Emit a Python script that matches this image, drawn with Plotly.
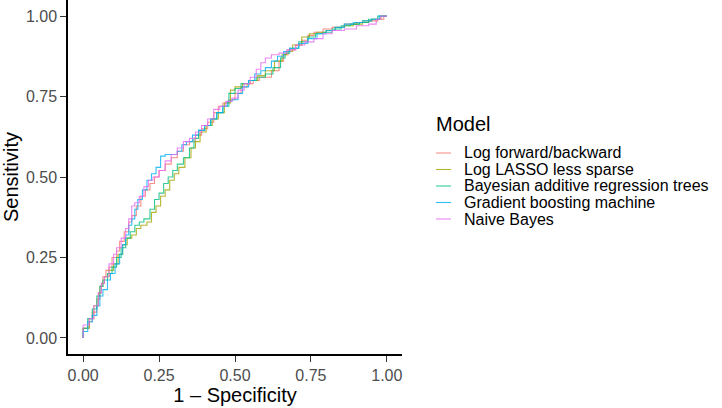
import plotly.graph_objects as go

# ROC curves (1 - specificity, sensitivity)
models = [
    "Log forward/backward",
    "Log LASSO less sparse",
    "Bayesian additive regression trees",
    "Gradient boosting machine",
    "Naive Bayes",
]
colors = ["#F8766D", "#A3A500", "#00BF7D", "#00B0F6", "#E76BF3"]

fpr_logfb = [0, 0.02, 0.03, 0.045, 0.055, 0.065, 0.075, 0.085, 0.095, 0.11, 0.12, 0.135, 0.15, 0.16,
             0.175, 0.19, 0.205, 0.22, 0.235, 0.25, 0.27, 0.29, 0.31, 0.33, 0.35, 0.37, 0.39, 0.41,
             0.43, 0.445, 0.46, 0.48, 0.50, 0.52, 0.54, 0.56, 0.58, 0.62, 0.645, 0.66, 0.675, 0.70,
             0.72, 0.74, 0.76, 0.79, 0.82, 0.86, 0.90, 0.94, 0.97, 0.99, 1.0]
tpr_logfb = [0, 0.03, 0.05, 0.08, 0.12, 0.16, 0.19, 0.21, 0.22, 0.25, 0.27, 0.30, 0.33, 0.36,
             0.38, 0.41, 0.44, 0.46, 0.48, 0.50, 0.52, 0.54, 0.56, 0.58, 0.60, 0.61, 0.63, 0.65,
             0.67, 0.70, 0.72, 0.73, 0.74, 0.76, 0.78, 0.79, 0.80, 0.81, 0.83, 0.86, 0.88, 0.895,
             0.91, 0.925, 0.94, 0.95, 0.96, 0.965, 0.975, 0.98, 0.985, 0.99, 1.0]

fpr_lasso = [0, 0.02, 0.035, 0.05, 0.06, 0.07, 0.085, 0.10, 0.115, 0.13, 0.145, 0.16, 0.175, 0.19,
             0.21, 0.225, 0.24, 0.255, 0.27, 0.285, 0.30, 0.315, 0.335, 0.355, 0.37, 0.385, 0.405,
             0.425, 0.445, 0.465, 0.485, 0.50, 0.525, 0.55, 0.575, 0.60, 0.63, 0.655, 0.67, 0.69,
             0.72, 0.745, 0.77, 0.80, 0.83, 0.86, 0.89, 0.92, 0.95, 0.98, 1.0]
tpr_lasso = [0, 0.03, 0.06, 0.10, 0.14, 0.17, 0.19, 0.21, 0.23, 0.26, 0.29, 0.31, 0.32, 0.34,
             0.35, 0.36, 0.39, 0.41, 0.44, 0.46, 0.49, 0.51, 0.53, 0.56, 0.59, 0.61, 0.64,
             0.66, 0.68, 0.70, 0.73, 0.77, 0.78, 0.79, 0.80, 0.815, 0.83, 0.86, 0.88, 0.89,
             0.91, 0.935, 0.945, 0.95, 0.955, 0.965, 0.97, 0.975, 0.985, 0.99, 1.0]

fpr_bart = [0, 0.015, 0.03, 0.045, 0.055, 0.065, 0.08, 0.095, 0.11, 0.125, 0.14, 0.155, 0.17, 0.185,
            0.20, 0.22, 0.235, 0.25, 0.265, 0.28, 0.295, 0.31, 0.33, 0.35, 0.365, 0.38, 0.40, 0.42,
            0.44, 0.46, 0.48, 0.50, 0.52, 0.545, 0.57, 0.60, 0.625, 0.65, 0.665, 0.68, 0.71, 0.74,
            0.765, 0.79, 0.82, 0.85, 0.88, 0.91, 0.94, 0.97, 1.0]
tpr_bart = [0, 0.03, 0.06, 0.09, 0.13, 0.16, 0.18, 0.20, 0.22, 0.25, 0.28, 0.31, 0.33, 0.35,
            0.36, 0.37, 0.40, 0.43, 0.45, 0.48, 0.50, 0.52, 0.54, 0.56, 0.59, 0.62, 0.645, 0.66,
            0.68, 0.70, 0.72, 0.76, 0.775, 0.79, 0.80, 0.81, 0.82, 0.84, 0.87, 0.885, 0.90, 0.92,
            0.935, 0.945, 0.95, 0.96, 0.97, 0.975, 0.98, 0.99, 1.0]

fpr_gbm = [0, 0.015, 0.03, 0.045, 0.055, 0.065, 0.08, 0.09, 0.105, 0.12, 0.13, 0.14, 0.15, 0.16,
           0.17, 0.18, 0.195, 0.21, 0.225, 0.24, 0.255, 0.27, 0.31, 0.325, 0.34, 0.36, 0.38, 0.40,
           0.42, 0.44, 0.46, 0.475, 0.49, 0.51, 0.525, 0.545, 0.565, 0.585, 0.60, 0.62, 0.64, 0.66,
           0.68, 0.71, 0.74, 0.77, 0.80, 0.83, 0.86, 0.89, 0.92, 0.95, 0.975, 1.0]
tpr_gbm = [0, 0.02, 0.05, 0.07, 0.10, 0.13, 0.15, 0.18, 0.20, 0.23, 0.26, 0.29, 0.32, 0.35,
           0.37, 0.40, 0.43, 0.46, 0.49, 0.51, 0.53, 0.565, 0.57, 0.58, 0.60, 0.61, 0.63, 0.645,
           0.66, 0.68, 0.70, 0.72, 0.735, 0.74, 0.76, 0.78, 0.80, 0.82, 0.83, 0.84, 0.86, 0.875,
           0.89, 0.90, 0.915, 0.93, 0.945, 0.955, 0.965, 0.975, 0.98, 0.985, 0.99, 1.0]

fpr_nb = [0, 0.02, 0.035, 0.05, 0.06, 0.07, 0.085, 0.10, 0.11, 0.125, 0.14, 0.15, 0.16, 0.17,
          0.185, 0.20, 0.215, 0.23, 0.25, 0.27, 0.29, 0.31, 0.33, 0.35, 0.37, 0.39, 0.41, 0.43,
          0.45, 0.47, 0.49, 0.51, 0.53, 0.55, 0.57, 0.585, 0.60, 0.62, 0.645, 0.67, 0.70, 0.73,
          0.76, 0.79, 0.82, 0.86, 0.90, 0.94, 0.965, 0.98, 1.0]
tpr_nb = [0, 0.04, 0.06, 0.10, 0.14, 0.17, 0.19, 0.23, 0.26, 0.28, 0.31, 0.34, 0.37, 0.41,
          0.42, 0.44, 0.47, 0.49, 0.50, 0.52, 0.55, 0.57, 0.59, 0.61, 0.62, 0.64, 0.66, 0.68,
          0.71, 0.72, 0.735, 0.745, 0.77, 0.79, 0.81, 0.835, 0.855, 0.87, 0.88, 0.885, 0.895, 0.91,
          0.92, 0.93, 0.945, 0.955, 0.96, 0.97, 0.975, 0.99, 1.0]

curves = [
    (fpr_logfb, tpr_logfb),
    (fpr_lasso, tpr_lasso),
    (fpr_bart, tpr_bart),
    (fpr_gbm, tpr_gbm),
    (fpr_nb, tpr_nb),
]

tick_vals = [0, 0.25, 0.5, 0.75, 1.0]
tick_text = ["0.00", "0.25", "0.50", "0.75", "1.00"]

FONT = "Liberation Sans, Arial, Helvetica, sans-serif"
W, H = 722, 408
ML, MR, MT, MB = 68, 320, 0, 54
PW, PH = W - ML - MR, H - MT - MB


def px_x(px):
    return (px - ML) / PW


def px_y(py):
    return (H - MB - py) / PH


fig = go.Figure()

for name, color, (fx, ty) in zip(models, colors, curves):
    fig.add_trace(go.Scatter(
        x=fx,
        y=ty,
        mode="lines",
        name=name,
        line=dict(color=color, width=1.1, shape="vh"),
        opacity=0.8,
        showlegend=False,
        hovertemplate=f"<b>{name}</b><br>1 - Spec: %{{x:.2f}}<br>Sens: %{{y:.2f}}<extra></extra>",
    ))

# hand-built legend (ggplot style: tight rows)
fig.add_annotation(
    x=px_x(434), y=px_y(124), xref="paper", yref="paper",
    text="Model", showarrow=False, xanchor="left", yanchor="middle",
    font=dict(family=FONT, size=20, color="black"),
)
row_y = [153, 169.5, 186, 202.5, 219]
for name, color, ry in zip(models, colors, row_y):
    fig.add_shape(
        type="line", xref="paper", yref="paper",
        x0=px_x(436), x1=px_x(451), y0=px_y(ry), y1=px_y(ry),
        line=dict(color=color, width=1.1), opacity=0.8,
    )
    fig.add_annotation(
        x=px_x(463), y=px_y(ry), xref="paper", yref="paper",
        text=name, showarrow=False, xanchor="left", yanchor="middle",
        font=dict(family=FONT, size=16, color="black"), borderpad=0,
    )

axis_common = dict(
    range=[-0.05, 1.05],
    tickvals=tick_vals,
    ticktext=tick_text,
    showgrid=False,
    zeroline=False,
    showline=True,
    linecolor="black",
    linewidth=1.5,
    ticks="outside",
    ticklen=6,
    tickwidth=1.3,
    tickcolor="#333333",
    tickfont=dict(family=FONT, size=16, color="#4D4D4D"),
    automargin=False,
)

fig.update_layout(
    width=W,
    height=H,
    margin=dict(l=ML, r=MR, t=MT, b=MB),
    plot_bgcolor="white",
    paper_bgcolor="white",
    showlegend=False,
    xaxis=dict(axis_common, title=dict(text="1 – Specificity", standoff=2,
                                       font=dict(family=FONT, size=20, color="black"))),
    yaxis=dict(axis_common, title=dict(text="Sensitivity", standoff=2,
                                       font=dict(family=FONT, size=20, color="black"))),
)

# the page's default body margin would shift the figure off the window
fig.write_html("out.html", config={"displayModeBar": False},
               post_script="document.body.style.margin='0';")
